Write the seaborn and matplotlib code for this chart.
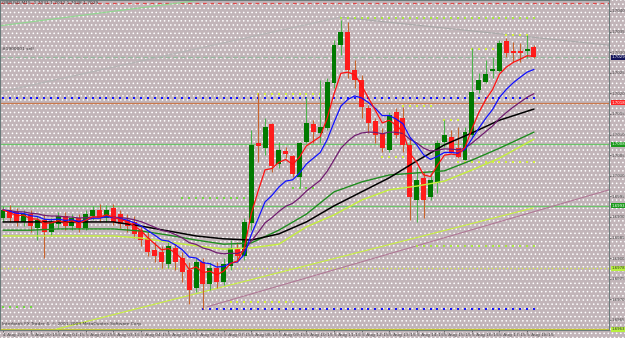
import numpy as np
import pandas as pd
import matplotlib
matplotlib.use("Agg")
import matplotlib.pyplot as plt
import matplotlib.transforms as mtransforms
from matplotlib.patches import Rectangle
import seaborn as sns

# ---------------- data ----------------
open_ = [1.69898, 1.69917, 1.69912, 1.69888, 1.69907, 1.69873, 1.69893, 1.69864, 1.69883, 1.69902,
         1.69878, 1.69898, 1.69873, 1.69902, 1.69917, 1.69898, 1.69922, 1.69907, 1.69893, 1.69888,
         1.69868, 1.69849, 1.69820, 1.69815, 1.69786, 1.69825, 1.69800, 1.69771, 1.69728, 1.69791,
         1.69737, 1.69776, 1.69742, 1.69781, 1.69825, 1.69805, 1.69885, 1.70080, 1.70067, 1.70126,
         1.70029, 1.70060, 1.70048, 1.69997, 1.70082, 1.70126, 1.70104, 1.70116, 1.70225, 1.70317,
         1.70349, 1.70257, 1.70233, 1.70165, 1.70133, 1.70104, 1.70063, 1.70155, 1.70140, 1.70075,
         1.69941, 1.69995, 1.69949, 1.69983, 1.70082, 1.70094, 1.70067, 1.70038, 1.70099, 1.70208,
         1.70228, 1.70254, 1.70254, 1.70327, 1.70303, 1.70303, 1.70303, 1.70313]
high = [1.69927, 1.69929, 1.69922, 1.69917, 1.69917, 1.69902, 1.69907, 1.69898, 1.69912, 1.69912,
        1.69907, 1.69907, 1.69917, 1.69927, 1.69932, 1.69929, 1.69932, 1.69917, 1.69907, 1.69902,
        1.69878, 1.69864, 1.69839, 1.69830, 1.69844, 1.69834, 1.69815, 1.69791, 1.69800, 1.69800,
        1.69791, 1.69791, 1.69800, 1.69844, 1.69839, 1.69898, 1.70111, 1.70201, 1.70140, 1.70128,
        1.70082, 1.70070, 1.70050, 1.70082, 1.70191, 1.70135, 1.70233, 1.70237, 1.70330, 1.70378,
        1.70373, 1.70281, 1.70245, 1.70172, 1.70140, 1.70116, 1.70155, 1.70165, 1.70167, 1.70094,
        1.70021, 1.70009, 1.70007, 1.70087, 1.70135, 1.70111, 1.70118, 1.70118, 1.70310, 1.70250,
        1.70281, 1.70288, 1.70330, 1.70334, 1.70325, 1.70322, 1.70342, 1.70317]
low = [1.69888, 1.69888, 1.69878, 1.69878, 1.69864, 1.69844, 1.69800, 1.69854, 1.69873, 1.69868,
       1.69868, 1.69864, 1.69868, 1.69893, 1.69888, 1.69888, 1.69881, 1.69873, 1.69864, 1.69849,
       1.69830, 1.69805, 1.69791, 1.69776, 1.69776, 1.69771, 1.69742, 1.69689, 1.69718, 1.69677,
       1.69723, 1.69728, 1.69735, 1.69771, 1.69791, 1.69796, 1.69868, 1.70033, 1.70050, 1.70009,
       1.70019, 1.70043, 1.69997, 1.69970, 1.70080, 1.70080, 1.70080, 1.70111, 1.70213, 1.70293,
       1.70237, 1.70213, 1.70140, 1.70104, 1.70080, 1.70058, 1.70058, 1.70092, 1.70058, 1.69893,
       1.69888, 1.69898, 1.69941, 1.69958, 1.70070, 1.70055, 1.70043, 1.70038, 1.70094, 1.70201,
       1.70225, 1.70237, 1.70252, 1.70288, 1.70276, 1.70276, 1.70286, 1.70286]
close_ = [1.69917, 1.69898, 1.69888, 1.69907, 1.69878, 1.69893, 1.69864, 1.69888, 1.69902, 1.69878,
          1.69898, 1.69873, 1.69907, 1.69917, 1.69898, 1.69917, 1.69888, 1.69883, 1.69878, 1.69859,
          1.69844, 1.69815, 1.69805, 1.69791, 1.69830, 1.69791, 1.69767, 1.69723, 1.69791, 1.69737,
          1.69776, 1.69742, 1.69786, 1.69825, 1.69805, 1.69888, 1.70075, 1.70072, 1.70118, 1.70024,
          1.70063, 1.70053, 1.70004, 1.70080, 1.70128, 1.70106, 1.70118, 1.70228, 1.70317, 1.70349,
          1.70257, 1.70233, 1.70167, 1.70128, 1.70099, 1.70067, 1.70148, 1.70099, 1.70075, 1.69949,
          1.69990, 1.69941, 1.69990, 1.70080, 1.70099, 1.70058, 1.70046, 1.70106, 1.70203, 1.70233,
          1.70247, 1.70259, 1.70322, 1.70298, 1.70298, 1.70298, 1.70308, 1.70288]

ma_bars = [0, 4, 8, 12, 16, 20, 24, 28, 32, 36, 40, 44, 48, 52, 56, 60, 64, 68, 72, 77]
ma_black = [1.69888, 1.69888, 1.69888, 1.69888, 1.69888, 1.69878, 1.69866, 1.69854, 1.69847, 1.69844,
            1.69859, 1.69888, 1.69927, 1.69961, 1.69995, 1.70036, 1.70075, 1.70104, 1.70135, 1.70162]
ma_green = [1.69868, 1.69868, 1.69871, 1.69871, 1.69871, 1.69866, 1.69856, 1.69844, 1.69834, 1.69837,
            1.69868, 1.69907, 1.69961, 1.69985, 1.70002, 1.70007, 1.70012, 1.70038, 1.70067, 1.70106]
ma_lime = [1.69854, 1.69854, 1.69854, 1.69854, 1.69854, 1.69849, 1.69839, 1.69830, 1.69822, 1.69825,
           1.69834, 1.69876, 1.69905, 1.69941, 1.69966, 1.69975, 1.69987, 1.70014, 1.70043, 1.70089]

x_labels = ["4 Aug 2009"] + [f"5 Aug {h:02d}:15" for h in range(0, 19)]
y_ticks = [1.7040, 1.7035, 1.7030, 1.7025, 1.7020, 1.7015, 1.7010, 1.7005,
           1.7000, 1.6995, 1.6990, 1.6985, 1.6980, 1.6975, 1.6970, 1.6965]

# horizontal levels: price, colour, style
h_levels = [(1.70419, "#e04848", (0, (3, 3))),
            (1.70288, "#98b8a0", (0, (4, 2))),
            (1.70177, "#c8784c", "-"),
            (1.70077, "#6cc46c", "-"),
            (1.69927, "#6cc46c", "-"),
            (1.69776, "#d8f040", (0, (1, 2))),
            (1.69628, "#c8c830", "-")]
# axis price boxes: price, text, face, text colour
axis_boxes = [(1.70288, "1.7029", "#14145a", "white"),
              (1.70177, "1.7018", "#ff2424", "white"),
              (1.70077, "1.7008", "#1c9a1c", "white"),
              (1.69927, "1.6993", "#1c9a1c", "white"),
              (1.69776, "1.6978", "#b8f040", "#303030"),
              (1.69628, "1.6963", "#b8f040", "#303030")]
# dotted indicator levels: first bar, last bar, price, colour
dot_levels = [(0, 77, 1.70189, "#1414ff"), (29, 77, 1.69677, "#1414ff"),
              (49, 77, 1.70383, "#a8e840"), (60, 77, 1.69830, "#a8e840"),
              (37, 46, 1.70199, "#d4f040"), (42, 45, 1.69970, "#70d840"),
              (26, 35, 1.69946, "#70d840"), (58, 62, 1.70169, "#d4f040"),
              (64, 66, 1.70135, "#d4f040"), (55, 59, 1.70046, "#d4f040"),
              (66, 77, 1.70033, "#d4f040"), (73, 76, 1.70342, "#d4f040"),
              (68, 71, 1.70308, "#d4f040"), (33, 42, 1.69694, "#d4f040"),
              (0, 4, 1.69682, "#70d840")]
# trend lines: (bar, price) -> (bar, price), colour
trend_lines = [((-0.5, 1.70364), (29.0, 1.70427), "#8ed88e"),
               ((-0.5, 1.70203), (48.9, 1.70385), "#b4b4b4"),
               ((48.9, 1.70385), (87.9, 1.70317), "#a8a8a8"),
               ((29.6, 1.69682), (87.9, 1.69966), "#b07896"),
               ((7.8, 1.69628), (76.9, 1.69922), "#c8f040")]

title_text = "GBPUSD,M15  1.7031 1.7032 1.7028 1.7029"
order_text = "#1900001 sell"
copyright_text = "Interbank FX Trader 4, \u00a9 2001-2009 MetaQuotes Software Corp."

# ---------------- style ----------------
sns.set_theme(style="white")
plt.rcParams["font.family"] = ["Liberation Sans Narrow", "DejaVu Sans"]
plt.rcParams["hatch.linewidth"] = 0.6
plt.rcParams["hatch.color"] = "white"

BG = "#c2b5b9"
FS = 3.2
FS_R = 2.8
fig = plt.figure(figsize=(6.25, 3.38), dpi=100, facecolor=BG)
fig.patches.append(Rectangle((0, 0), 1, 1, transform=fig.transFigure, fill=False,
                             hatch="....", edgecolor="white", lw=0, zorder=-10))
ax = fig.add_axes([0.0, 8 / 338, 609 / 625, 330 / 338])
ax.set_facecolor("none")
ax.set_xlim(-0.435, 87.88)
ax.set_ylim(1.696257, 1.704267)

o = np.array(open_); h = np.array(high); l = np.array(low); c = np.array(close_)
bars = np.arange(len(c))
up = c >= o

# horizontal level lines
for price, col, ls in h_levels:
    ax.axhline(price, color=col, lw=0.9, ls=ls, zorder=1)

# trend lines
for (x0, y0), (x1, y1), col in trend_lines:
    ax.plot([x0, x1], [y0, y1], color=col, lw=0.8, zorder=1.5)

# dotted indicator levels
for b0, b1, price, col in dot_levels:
    xs = np.arange(b0, b1 + 1)
    sns.scatterplot(x=xs, y=np.full(len(xs), price), ax=ax, color=col, marker="s",
                    s=2.2, linewidth=0, zorder=2, legend=False)

# candles
ax.vlines(bars[up], l[up], h[up], color="#4cb44c", lw=0.8, zorder=3)
ax.vlines(bars[~up], l[~up], h[~up], color="#c8642c", lw=0.8, zorder=3)
body = np.maximum(np.abs(c - o), 0.000025)
ax.bar(bars, body, bottom=np.minimum(o, c), width=0.72,
       color=np.where(up, "#007a00", "#ff1c1c"), lw=0, zorder=4)

# moving averages
df = pd.DataFrame({"bar": bars, "close": c})
df["ema5"] = df["close"].ewm(span=5, adjust=False).mean()
df["ema10"] = df["close"].ewm(span=10, adjust=False).mean()
df["ema21"] = df["close"].ewm(span=21, adjust=False).mean()
slow = pd.DataFrame({"bar": ma_bars, "black": ma_black, "green": ma_green, "lime": ma_lime})

sns.lineplot(data=slow, x="bar", y="lime", ax=ax, color="#c4f03c", lw=1.0, zorder=5)
sns.lineplot(data=slow, x="bar", y="green", ax=ax, color="#1e8c1e", lw=1.0, zorder=5)
sns.lineplot(data=slow, x="bar", y="black", ax=ax, color="#000000", lw=1.1, zorder=5)
sns.lineplot(data=df, x="bar", y="ema21", ax=ax, color="#701c70", lw=0.9, zorder=6)
sns.lineplot(data=df, x="bar", y="ema10", ax=ax, color="#1010ff", lw=0.9, zorder=6)
sns.lineplot(data=df, x="bar", y="ema5", ax=ax, color="#ff1010", lw=0.9, zorder=6)

# axes / ticks
ax.set_xlabel("")
ax.set_ylabel("")
ax.yaxis.tick_right()
ax.set_yticks(y_ticks)
ax.set_yticklabels([f"{t:.4f}" for t in y_ticks])
ax.set_xticks(np.arange(0, 77, 4))
ax.set_xticklabels(x_labels, ha="left")
ax.tick_params(axis="y", labelsize=FS_R, colors="#4a4a4a", length=1.2, width=0.5, pad=0.5,
               direction="out", right=True)
ax.tick_params(axis="x", labelsize=FS, colors="#4a4a4a", length=1.5, width=0.5, pad=0.6,
               direction="out", bottom=True)
for s in ax.spines.values():
    s.set_color("#6c7c7c")
    s.set_linewidth(0.8)

# price boxes on the axis
trans = mtransforms.blended_transform_factory(ax.transAxes, ax.transData)
for price, txt, fc, tc in axis_boxes:
    ax.text(1.0035, price, txt, transform=trans, fontsize=FS_R, color=tc, va="center", ha="left",
            clip_on=False, zorder=10,
            bbox=dict(boxstyle="square,pad=0.12", fc=fc, ec="none"))

# texts
ax.text(0.004, 0.996, title_text, transform=ax.transAxes, fontsize=FS, color="#3c3c3c",
        va="top", ha="left")
ax.text(0.004, 1.70303, order_text, transform=trans, fontsize=FS, color="#3c3c3c",
        va="bottom", ha="left")
ax.text(0.004, 0.012, copyright_text, transform=ax.transAxes, fontsize=FS, color="#3c3c3c",
        va="bottom", ha="left")

fig.savefig("out.png", dpi=100, facecolor=BG)
